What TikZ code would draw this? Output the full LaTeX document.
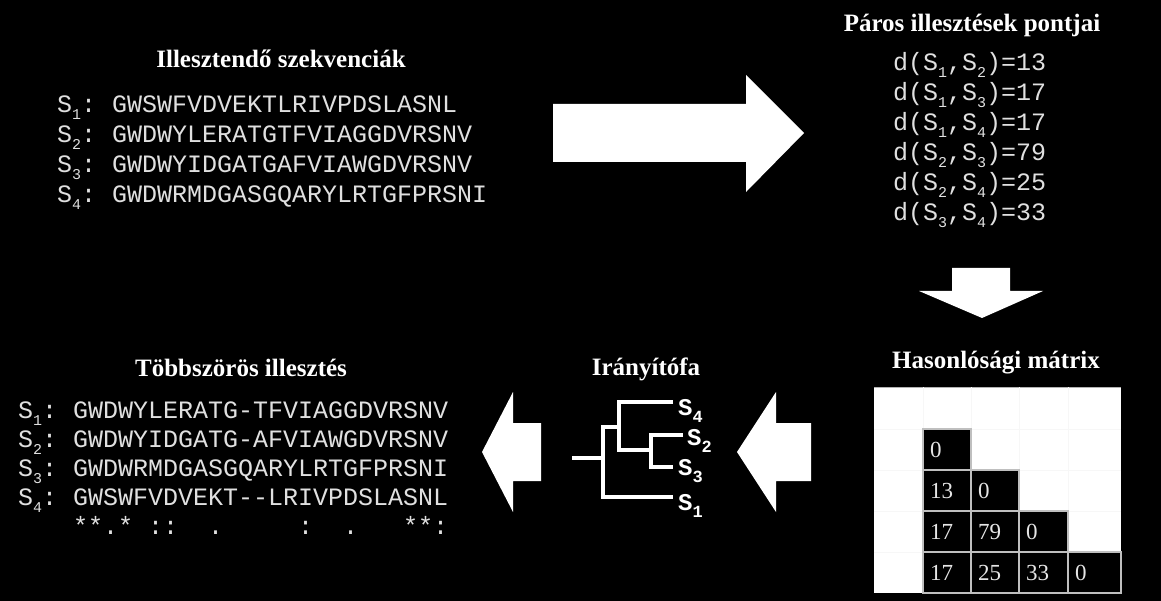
\documentclass[tikz,border=0pt]{standalone}
\usepackage{fontspec}
\setmainfont{Liberation Serif}
\setmonofont{Liberation Mono}
\newcommand\mysub[1]{\raisebox{-0.28em}{\fontsize{15}{15}\selectfont #1}}
\newcommand\mysubb[1]{\raisebox{-0.3em}{\fontsize{17}{17}\selectfont #1}}
\begin{document}
\begin{tikzpicture}[x=1pt,y=-1pt,
  title/.style={font=\fontsize{25}{28}\selectfont\bfseries, text=white, inner sep=0pt, anchor=base},
  mono/.style={font=\fontsize{25}{30}\selectfont\ttfamily, text=white!88!black, inner sep=0pt, anchor=base west},
  leaf/.style={font=\fontsize{24}{28}\selectfont\ttfamily\bfseries, text=white, inner sep=0pt, anchor=base west},
  bigarrow/.style={fill=white, draw=none},
  branch/.style={draw=white, line width=4pt, line join=miter},
  cell/.style={draw=white!75!black, line width=1.2pt, fill=black, text=white!90!black,
    font=\fontsize{23}{24}\selectfont, inner xsep=7pt, inner ysep=0pt, align=left, minimum height=41pt},
  faint/.style={draw=black!3, line width=0.6pt}
]
\useasboundingbox (0,0) rectangle (1161,601);
\fill[black] (0,0) rectangle (1161,601);

% ---- Illesztendo szekvenciak
\node[title] (t1) at (281,68) {Illesztendő szekvenciák};
\node[mono] (l1) at (57,113) {S\mysub{1}:};
\node[mono] (q1) at (112,113) {GWSWFVDVEKTLRIVPDSLASNL};
\node[mono] (l2) at (57,143) {S\mysub{2}:};
\node[mono] (q2) at (112,143) {GWDWYLERATGTFVIAGGDVRSNV};
\node[mono] (l3) at (57,173) {S\mysub{3}:};
\node[mono] (q3) at (112,173) {GWDWYIDGATGAFVIAWGDVRSNV};
\node[mono] (l4) at (57,203) {S\mysub{4}:};
\node[mono] (q4) at (112,203) {GWDWRMDGASGQARYLRTGFPRSNI};

% ---- Paros illesztesek pontjai
\node[title] (t2) at (972,32) {Páros illesztések pontjai};
\node[mono] (d1) at (893,71) {d(S\mysub{1},S\mysub{2})=13};
\node[mono] (d2) at (893,101) {d(S\mysub{1},S\mysub{3})=17};
\node[mono] (d3) at (893,131) {d(S\mysub{1},S\mysub{4})=17};
\node[mono] (d4) at (893,161) {d(S\mysub{2},S\mysub{3})=79};
\node[mono] (d5) at (893,191) {d(S\mysub{2},S\mysub{4})=25};
\node[mono] (d6) at (893,221) {d(S\mysub{3},S\mysub{4})=33};

% ---- arrows
\path[bigarrow] (553,104) -- (746,104) -- (746,75) -- (804,133) -- (746,192) -- (746,162) -- (553,162) -- cycle;
\path[bigarrow] (952,268) -- (1010,268) -- (1010,291) -- (1043,291) -- (982,318) -- (919,291) -- (952,291) -- cycle;
\path[bigarrow] (541,423) -- (513,423) -- (513,392) -- (482,452) -- (513,512) -- (513,481) -- (541,481) -- cycle;
\path[bigarrow] (811,423) -- (776,423) -- (776,392) -- (737,452) -- (776,512) -- (776,481) -- (811,481) -- cycle;

% ---- Hasonlosagi matrix
\node[title] (t3) at (996,368) {Hasonlósági mátrix};
\fill[white] (874,387) rectangle (1121,593);
\draw[draw=white!70!black, line width=0.8pt] (874,387) -- (1121,387);
\foreach \xx in {923,971,1019,1068} \draw[faint] (\xx,387) -- (\xx,429);
\foreach \yy in {429,470,511,552} \draw[faint] (874,\yy) -- (923,\yy);
\draw[faint] (971,387) -- (971,470);
\draw[faint] (1019,387) -- (1019,511);
\draw[faint] (1068,387) -- (1068,552);
\draw[faint] (971,429) -- (1121,429);
\draw[faint] (1019,470) -- (1121,470);
\draw[faint] (1068,511) -- (1121,511);

\node[cell, text width=34pt] (m11) at (947,449.5) {0};
\node[cell, text width=34pt] (m21) at (947,490.5) {13};
\node[cell, text width=34pt] (m22) at (995,490.5) {0};
\node[cell, text width=34pt] (m31) at (947,531.5) {17};
\node[cell, text width=34pt] (m32) at (995,531.5) {79};
\node[cell, text width=35pt] (m33) at (1043.5,531.5) {0};
\node[cell, text width=34pt] (m41) at (947,572.5) {17};
\node[cell, text width=34pt] (m42) at (995,572.5) {25};
\node[cell, text width=35pt] (m43) at (1043.5,572.5) {33};
\node[cell, text width=39pt] (m44) at (1094.5,572.5) {0};

% ---- Iranyitofa
\node[title] (t4) at (646,375) {Irányítófa};
\coordinate (root) at (572,458);
\coordinate (e4) at (673,402);
\coordinate (e2) at (683,435);
\coordinate (e3) at (673,467);
\coordinate (e1) at (673,497);
\draw[branch] (e4) -- (619,402) -- (619,450) -- (651,450);
\draw[branch] (e2) -- (651,435) -- (651,467) -- (e3);
\draw[branch] (619,427) -- (603,427) -- (603,497) -- (e1);
\draw[branch] (root) -- (603,458);
\node[leaf] (s4) at (678,415) {S\mysubb{4}};
\node[leaf] (s2) at (687,445) {S\mysubb{2}};
\node[leaf] (s3) at (678,475) {S\mysubb{3}};
\node[leaf] (s1) at (678,510) {S\mysubb{1}};

% ---- Tobbszoros illesztes
\node[title] (t5) at (241,376) {Többszörös illesztés};
\node[mono] (a1) at (18,418) {S\mysub{1}:};
\node[mono] (b1) at (73,418) {GWDWYLERATG-TFVIAGGDVRSNV};
\node[mono] (a2) at (18,447) {S\mysub{2}:};
\node[mono] (b2) at (73,447) {GWDWYIDGATG-AFVIAWGDVRSNV};
\node[mono] (a3) at (18,476) {S\mysub{3}:};
\node[mono] (b3) at (73,476) {GWDWRMDGASGQARYLRTGFPRSNI};
\node[mono] (a4) at (18,505) {S\mysub{4}:};
\node[mono] (b4) at (73,505) {GWSWFVDVEKT--LRIVPDSLASNL};
\node[mono] (cons) at (73,534) {**.*~::~~.~~~~~:~~.~~~**:};
\end{tikzpicture}
\end{document}
